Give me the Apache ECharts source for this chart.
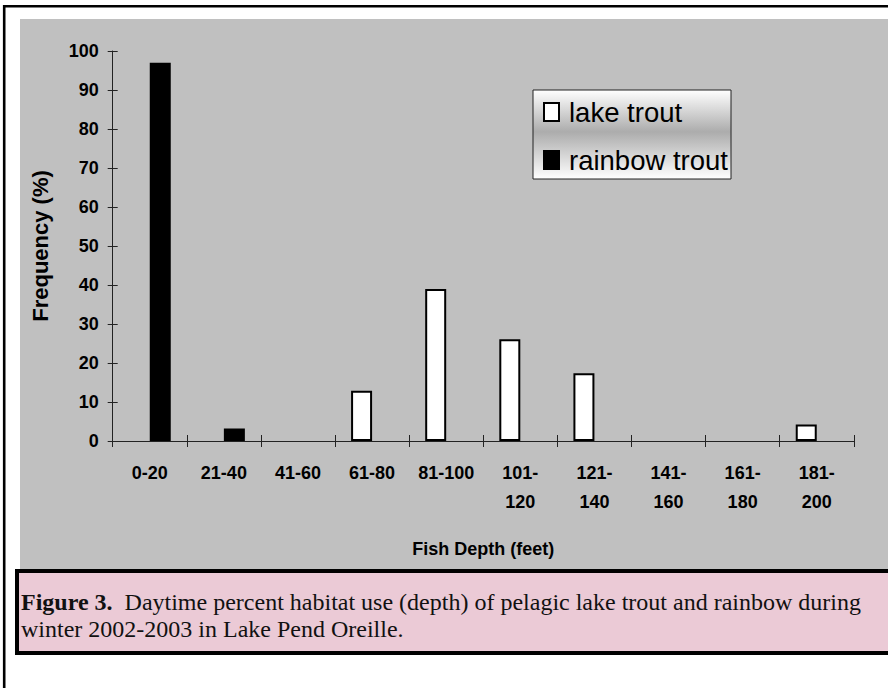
<!DOCTYPE html>
<html>
<head>
<meta charset="utf-8">
<script src="https://cdn.jsdelivr.net/npm/echarts@6/dist/echarts.min.js"></script>
<style>
  html, body { margin: 0; padding: 0; background: #ffffff; }
  #chart { width: 888px; height: 688px; }
</style>
</head>
<body>
<div id="chart"></div>
<script>
// Depth bins (feet) and share of detections per bin (%)
const categories = ['0-20', '21-40', '41-60', '61-80', '81-100', '101-\n120', '121-\n140', '141-\n160', '161-\n180', '181-\n200'];
const lakeTrout = [0, 0, 0, 12.9, 39, 26.1, 17.4, 0, 0, 4.2];
const rainbowTrout = [97, 3.2, 0, 0, 0, 0, 0, 0, 0, 0];
const yTicks = { min: 0, max: 100, interval: 10 };

const captionBold = 'Figure 3.';
const captionText = '  Daytime percent habitat use (depth) of pelagic lake trout and rainbow during\nwinter 2002-2003 in Lake Pend Oreille.';

const SANS = 'Liberation Sans, Arial, sans-serif';
const SERIF = 'Liberation Serif, Times New Roman, serif';

// empty bins are left without a bar
const asBars = arr => arr.map(v => (v === 0 ? '-' : v));

const chart = echarts.init(document.getElementById('chart'), null, { renderer: 'svg' });

const tickAxisX = (inside, main) => ({
  type: 'category',
  data: categories,
  position: 'bottom',
  boundaryGap: true,
  axisLine: { show: main, lineStyle: { color: '#222', width: 1 } },
  axisTick: { show: true, inside: inside, length: 6, lineStyle: { color: '#222', width: 1 } },
  axisLabel: main ? {
    color: '#000', fontFamily: SANS, fontWeight: 'bold', fontSize: 18,
    lineHeight: 29, margin: 17, interval: 0
  } : { show: false },
  splitLine: { show: false }
});

const tickAxisY = (inside, main) => ({
  type: 'value',
  min: yTicks.min, max: yTicks.max, interval: yTicks.interval,
  position: 'left',
  axisLine: { show: main, lineStyle: { color: '#222', width: 1 } },
  axisTick: { show: true, inside: inside, length: 5, lineStyle: { color: '#222', width: 1 } },
  axisLabel: main ? {
    color: '#000', fontFamily: SANS, fontWeight: 'bold', fontSize: 18, margin: 14
  } : { show: false },
  splitLine: { show: false }
});

const xMain = Object.assign(tickAxisX(false, true), {
  name: 'Fish Depth (feet)',
  nameLocation: 'middle',
  nameGap: 99,
  nameTextStyle: { color: '#000', fontFamily: SANS, fontWeight: 'bold', fontSize: 18 }
});
const yMain = Object.assign(tickAxisY(false, true), {
  name: 'Frequency (%)',
  nameLocation: 'middle',
  nameGap: 61,
  nameTextStyle: { color: '#000', fontFamily: SANS, fontWeight: 'bold', fontSize: 22 }
});

chart.setOption({
  backgroundColor: '#ffffff',
  animation: false,
  grid: { left: 112.7, right: 34.2, top: 51, bottom: 247, containLabel: false },
  xAxis: [xMain, tickAxisX(true, false)],
  yAxis: [yMain, tickAxisY(true, false)],
  legend: {
    orient: 'vertical',
    left: 543,
    top: 97,
    padding: 0,
    itemWidth: 15,
    itemHeight: 18,
    itemGap: 18,
    icon: 'rect',
    textStyle: { color: '#000', fontFamily: SANS, fontSize: 27.5, lineHeight: 30, padding: [0, 0, 0, 5] },
    data: ['lake trout', 'rainbow trout'],
    z: 10
  },
  graphic: [
    // plot background panel
    { type: 'rect', z: -10, silent: true,
      shape: { x: 20, y: 19, width: 870, height: 550 },
      style: { fill: '#c0c0c0' } },
    // outer frame (top and left edges)
    { type: 'line', z: -5, silent: true,
      shape: { x1: 3, y1: 6.2, x2: 888, y2: 6.2 },
      style: { stroke: '#000', lineWidth: 2.6 } },
    { type: 'line', z: -5, silent: true,
      shape: { x1: 4.2, y1: 5, x2: 4.2, y2: 688 },
      style: { stroke: '#000', lineWidth: 2.6 } },
    // legend box with shaded fill
    { type: 'rect', z: 5, silent: true,
      shape: { x: 533, y: 90, width: 198, height: 89 },
      style: {
        fill: new echarts.graphic.LinearGradient(0, 0, 0, 1, [
          { offset: 0, color: '#ffffff' },
          { offset: 0.47, color: '#acacac' },
          { offset: 1, color: '#ffffff' }
        ]),
        stroke: '#222', lineWidth: 1
      } },
    // caption panel
    { type: 'rect', z: -5, silent: true,
      shape: { x: 17, y: 571, width: 880, height: 82 },
      style: { fill: '#ebcad6', stroke: '#000', lineWidth: 4 } },
    { type: 'text', z: 20, silent: true,
      left: 21, top: 588.5,
      style: {
        text: '{b|' + captionBold + '}' + captionText,
        fill: '#111',
        fontFamily: SERIF,
        fontSize: 24,
        lineHeight: 27,
        rich: {
          b: { fontFamily: SERIF, fontWeight: 'bold', fontSize: 24, lineHeight: 27, fill: '#111' }
        }
      } }
  ],
  series: [
    {
      name: 'lake trout',
      type: 'bar',
      xAxisIndex: 0, yAxisIndex: 0,
      barWidth: 21,
      barGap: '0%',
      itemStyle: { color: '#ffffff', borderColor: '#000', borderWidth: 2 },
      data: asBars(lakeTrout)
    },
    {
      name: 'rainbow trout',
      type: 'bar',
      xAxisIndex: 0, yAxisIndex: 0,
      barWidth: 21,
      barGap: '0%',
      itemStyle: { color: '#000000', borderColor: '#000', borderWidth: 2 },
      data: asBars(rainbowTrout)
    }
  ]
});
</script>
</body>
</html>
